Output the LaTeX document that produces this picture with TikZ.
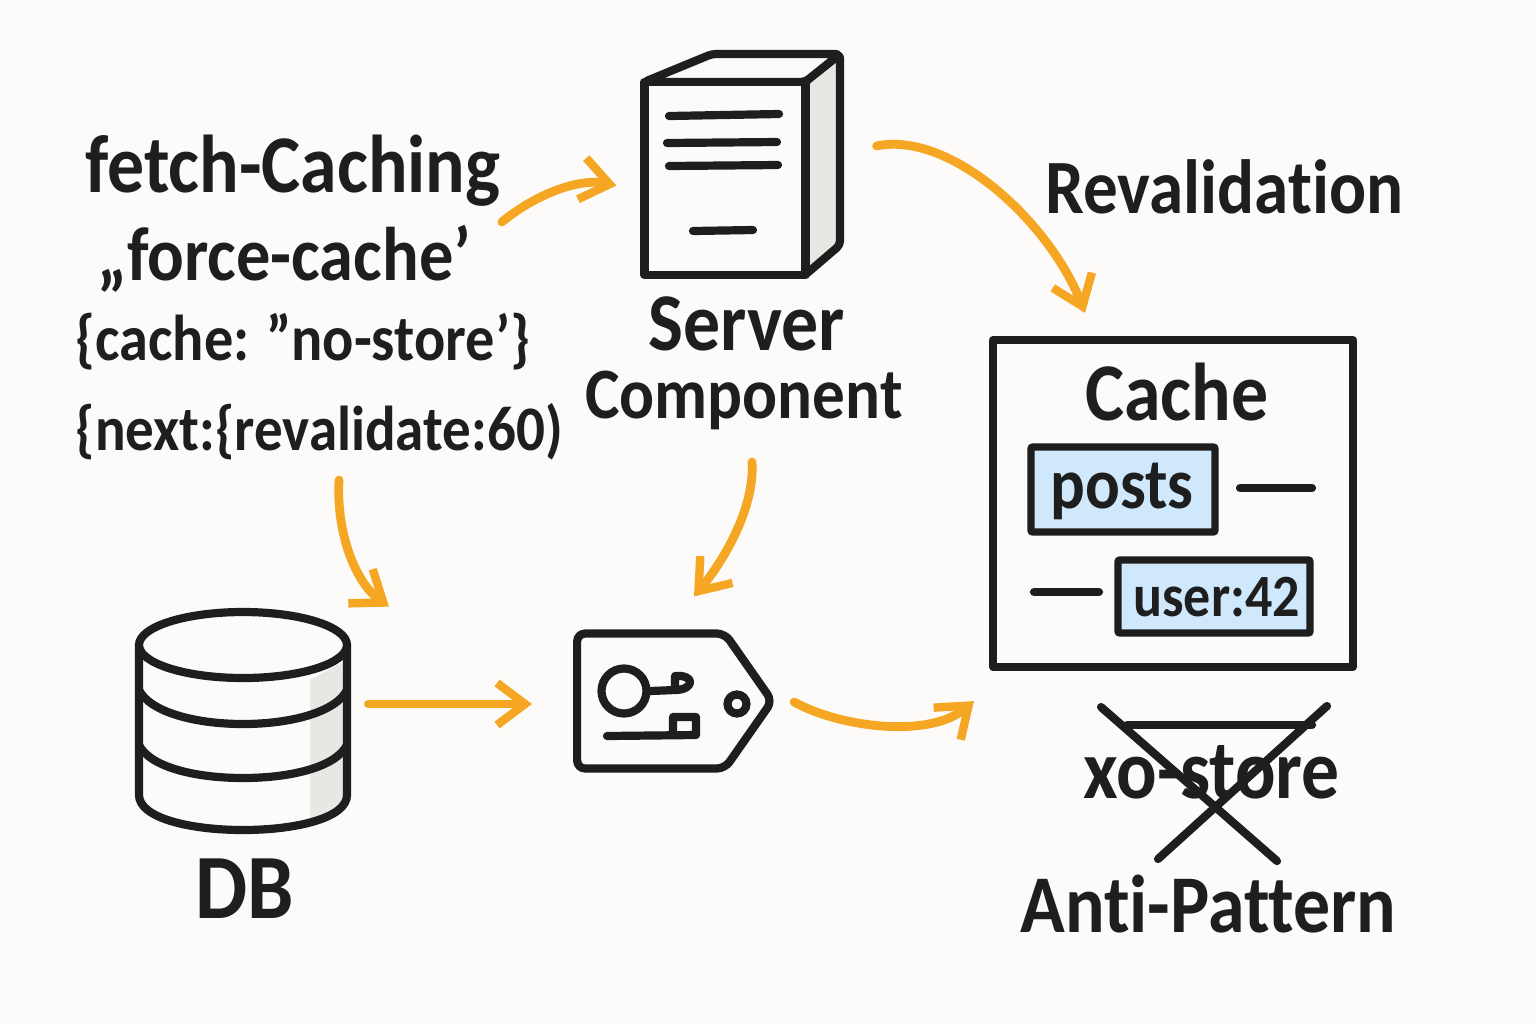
\documentclass[tikz,border=0pt]{standalone}
\usepackage{fontspec}
\setmainfont{Carlito}[BoldFont=Carlito Bold,Ligatures=NoCommon,FakeStretch=0.9]
\usepackage{tikz}
\usetikzlibrary{shapes.symbols,shapes.geometric,arrows.meta}
\definecolor{paper}{HTML}{FCFBF9}
\definecolor{ink}{HTML}{1E1E1E}
\definecolor{flowc}{HTML}{F5A623}
\definecolor{keyc}{HTML}{CFE8FB}
\definecolor{sidec}{HTML}{E8E7E3}
\begin{document}
\begin{tikzpicture}[x=0.5pt,y=-0.5pt,
	hand/.style = {inner sep=0pt, anchor=base west, text=ink, font=\bfseries\fontsize{#1}{#1}\selectfont},
	flow/.style = {draw=flowc, line width=4.4pt, line cap=round, line join=round, -{Straight Barb[length=14pt,width=21pt,line width=4.2pt]}},
	pen/.style = {draw=ink, line width=4.1pt, line cap=round, line join=round},
	keybox/.style = {draw=ink, line width=3.7pt, fill=keyc, rounded corners=1pt, inner sep=0pt}]
	\useasboundingbox (0,0) rectangle (1536,1024);
	\fill[paper] (0,0) rectangle (1536,1024);
	% left column of text
	\node[hand=41] (fetch1) at (85,192) {fetch-Caching};
	\node[hand=38] (fetch2) at (97,280) {„force-cache’};
	\node[hand=32.4] (fetch3) at (75,360) {\{cache: ”no-store’\}};
	\node[hand=31.7] (fetch4) at (75,450) {\{next:\{revalidate:60)};
	% server
	\draw[pen,fill=sidec,rounded corners=2pt] (805,82) -- (840,54) -- (840,245) -- (805,275) -- cycle;
	\draw[pen,fill=paper,rounded corners=2pt] (644,82) -- (712,54) -- (840,54) -- (805,82) -- cycle;
	\node[pen, fill=paper, minimum width=80.5pt, minimum height=96.5pt, inner sep=0pt] (server) at (725,178.5) {};
	\draw[pen] (669,116) -- (779,114);
	\draw[pen] (667,143) -- (777,142);
	\draw[pen] (669,166) -- (778,165);
	\draw[pen] (693,231) -- (753,230);
	\node[hand=41] (srv1) at (648,350) {Server};
	\node[hand=36.2] (srv2) at (585,418) {Component};
	% revalidation + cache
	\node[hand=38.4] (reval) at (1045,213) {Revalidation};
	\node[pen, minimum width=180pt, minimum height=163.5pt, inner sep=0pt] (cache) at (1173,503.5) {};
	\node[hand=41] (cachet) at (1085,420) {Cache};
	\node[keybox, minimum width=92pt, minimum height=42.5pt] (posts) at (1123,489.5) {};
	\node[hand=36] (postst) at (1050,508) {posts};
	\coordinate (l1a) at (1240,488);
	\coordinate (l1b) at (1312,488);
	\draw[pen] (l1a) -- (l1b);
	\coordinate (l2a) at (1034,592);
	\coordinate (l2b) at (1099,592);
	\draw[pen] (l2a) -- (l2b);
	\node[keybox, minimum width=96pt, minimum height=36.5pt] (user) at (1214,596.5) {};
	\node[hand=30] (usert) at (1133,616) {user:42};
	% anti pattern
	\node[hand=42] (nost) at (1083,798) {xo-store};
	\coordinate (ta) at (1127,725);
	\coordinate (tb) at (1312,725);
	\draw[pen] (ta) -- (tb);
	\coordinate (xa) at (1101,707);
	\coordinate (xb) at (1277,861);
	\coordinate (xc) at (1327,706);
	\coordinate (xd) at (1158,859);
	\draw[pen] (xa) -- (xb);
	\draw[pen] (xc) -- (xd);
	\node[hand=41] (anti) at (1020,932) {Anti-Pattern};
	% database
	\fill[paper] (139,645) -- (139,795) .. controls (139,818) and (190,830) .. (243,830) .. controls (296,830) and (347,818) .. (347,795) -- (347,645) -- cycle;
	\fill[sidec] (310,680) -- (347,660) -- (347,795) .. controls (347,805) and (330,815) .. (310,820) -- cycle;
	\draw[pen] (139,645) -- (139,795) .. controls (139,818) and (190,830) .. (243,830) .. controls (296,830) and (347,818) .. (347,795) -- (347,645);
	\draw[pen] (139,690) .. controls (150,712) and (195,724) .. (243,724) .. controls (291,724) and (336,712) .. (347,690);
	\draw[pen] (139,745) .. controls (150,767) and (195,778) .. (243,778) .. controls (291,778) and (336,767) .. (347,745);
	\node[pen, fill=paper, ellipse, minimum width=104pt, minimum height=33pt, inner sep=0pt] (dbtop) at (243,645) {};
	\node[minimum width=104pt, minimum height=96pt, inner sep=0pt] (db) at (243,737) {};
	\node[hand=46] (dbt) at (195,918) {DB};
	% tag
	\node[pen, signal, signal to=east, signal pointer angle=110, rounded corners=4pt, minimum width=97.5pt, minimum height=67.5pt, inner sep=0pt] (tag) at (651,701) {};
	\node[pen, circle, minimum size=22.5pt, inner sep=0pt] (tagc) at (624,691) {};
	\draw[pen] (tagc.east) -- (675,690);
	\draw[pen] (675,676) -- (681,676) .. controls (689,677) and (692,681) .. (689,685) .. controls (686,689) and (680,690) .. (675,690) -- cycle;
	\draw[pen] (607,736) -- (696,735) -- (696,717) -- (673,717) -- (673,735);
	\node[pen, circle, minimum size=9.5pt, inner sep=0pt] (hole) at (737,704) {};
	% arrows
	\draw[flow] ([shift={(1,30)}]fetch1.base east) .. controls +(30,-25) and +(-40,-8) .. ([shift={(-24,7)}]server.west);
	\draw[flow] ([shift={(67,68)}]server.north east) .. controls +(75,-15) and +(-35,-90) .. ([shift={(-88,-23)}]cache.north);
	\draw[flow] ([shift={(20,30)}]fetch4.base) .. controls +(-3,50) and +(-35,-25) .. ([shift={(146,-34)}]db.north);
	\draw[flow] ([shift={(8,44)}]srv2.base) .. controls +(3,50) and +(25,-30) .. ([shift={(43,-33)}]tag.north);
	\draw[flow] ([shift={(21,-33)}]db.east) -- ([shift={(-41,3)}]tag.west);
	\draw[flow] ([shift={(17,1)}]tag.east) .. controls +(45,25) and +(-45,38) .. ([shift={(-15,30)}]cache.south west);
\end{tikzpicture}
\end{document}
